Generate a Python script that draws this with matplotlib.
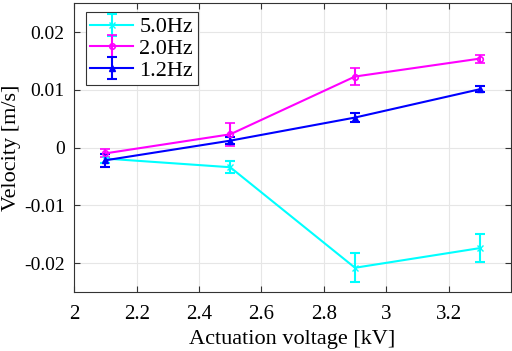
import numpy as np
import matplotlib
matplotlib.use("Agg")
import matplotlib.pyplot as plt

plt.rcParams['font.family'] = ['Liberation Serif', 'DejaVu Serif']

voltage = [2.1, 2.5, 2.9, 3.3]

v_5hz = [-0.0019, -0.0034, -0.0208, -0.0174]
e_5hz = [0.0008, 0.0010, 0.0025, 0.0024]

v_2hz = [-0.0010, 0.0023, 0.0123, 0.0154]
e_2hz = [0.0007, 0.0020, 0.0015, 0.0007]

v_12hz = [-0.0022, 0.0012, 0.0052, 0.0101]
e_12hz = [0.0011, 0.0006, 0.0008, 0.0005]

fig = plt.figure(figsize=(5.12, 3.51), dpi=100)
ax = fig.add_axes([0.145, 0.168, 0.853, 0.823])

ax.errorbar(voltage, v_5hz, yerr=e_5hz, color='cyan', marker='x', ms=5,
            lw=1.5, capsize=3.5, elinewidth=1.5, capthick=1.5, label='5.0Hz')
ax.errorbar(voltage, v_2hz, yerr=e_2hz, color='magenta', marker='o', ms=4,
            mfc='none', mew=1.2, lw=1.5, capsize=3.5, elinewidth=1.5,
            capthick=1.5, label='2.0Hz')
ax.errorbar(voltage, v_12hz, yerr=e_12hz, color='blue', marker='^', ms=5,
            lw=1.5, capsize=3.5, elinewidth=1.5, capthick=1.5, label='1.2Hz')

ax.set_xlim(2, 3.4)
ax.set_ylim(-0.025, 0.025)
ax.set_xticks([2, 2.2, 2.4, 2.6, 2.8, 3, 3.2])
ax.set_xticklabels(['2', '2.2', '2.4', '2.6', '2.8', '3', '3.2'])
ax.set_yticks([-0.02, -0.01, 0, 0.01, 0.02])
ax.set_yticklabels(['-0.02', '-0.01', '0', '0.01', '0.02'])
ax.grid(True, color='#e6e6e6', lw=0.8)
ax.set_axisbelow(True)
ax.tick_params(direction='in', top=True, right=True, labelsize=15,
               length=4, color='#333333')
ax.tick_params(axis='x', pad=9)
ax.tick_params(axis='y', pad=7, labelsize=14)
for s in ax.spines.values():
    s.set_color('#333333')

ax.set_xlabel('Actuation voltage [kV]', fontsize=16, labelpad=5)
ax.set_ylabel('Velocity [m/s]', fontsize=16, labelpad=2)

leg = ax.legend(loc='upper left', fontsize=16, fancybox=False,
                edgecolor='#333333', framealpha=1, handlelength=1.9,
                borderpad=0.2, labelspacing=0.05, handletextpad=0.3,
                borderaxespad=0, bbox_to_anchor=(0.027, 0.968))
leg.get_frame().set_linewidth(0.8)

fig.savefig('out.png', dpi=100)
